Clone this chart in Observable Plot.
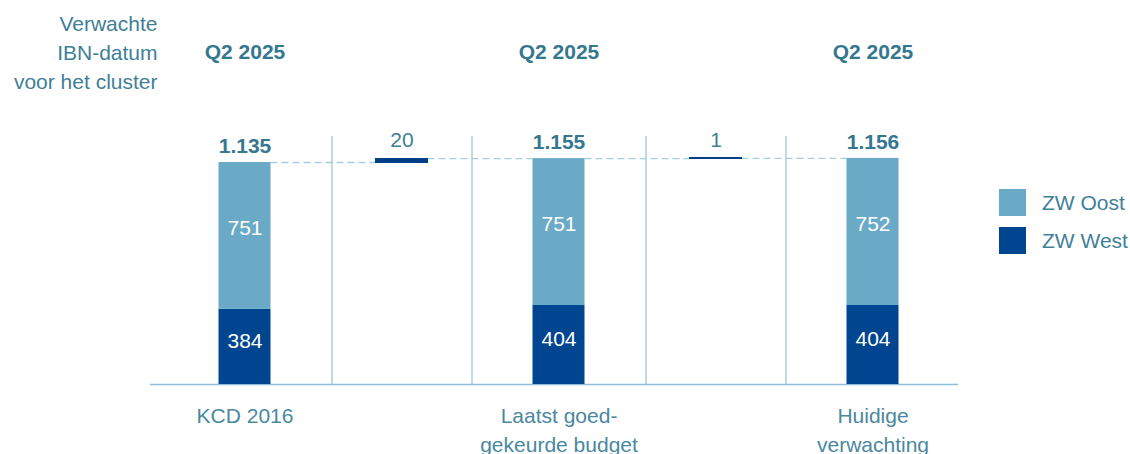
<!DOCTYPE html>
<html><head><meta charset="utf-8">
<script src="https://cdn.jsdelivr.net/npm/d3@7"></script>
<script src="https://cdn.jsdelivr.net/npm/@observablehq/plot@0.6"></script>
<style>
body{margin:0;background:#fff;}
#wrap{position:relative;width:1130px;height:454px;overflow:hidden;font-family:"Liberation Sans",Arial,sans-serif;}
#wrap svg{position:absolute;left:0;top:0;}
.legend{position:absolute;left:999px;top:189px;}
.item{display:flex;align-items:center;height:27px;margin-bottom:11px;font-size:21px;color:#3f7f97;white-space:nowrap;}
.sw{width:27px;height:27px;margin-right:16px;flex:none;}
</style></head><body><div id="wrap"></div>
<script>
// ---- data ----
const categories = ["KCD 2016", "delta1", "Laatst goedgekeurde budget", "delta2", "Huidige verwachting"];
const tickLabels = ["KCD 2016", "", "Laatst goed-\ngekeurde budget", "", "Huidige\nverwachting"];
const series = ["ZW Oost", "ZW West"];
const seriesColors = ["#6aaac7", "#004590"];
const westValues = [384, null, 404, null, 404];
const oostValues = [751, null, 751, null, 752];
const deltaValues = [null, 20, null, 1, null];
const ibnLabels = ["Q2 2025", null, "Q2 2025", null, "Q2 2025"];
const sideLabel = "Verwachte\nIBN-datum\nvoor het cluster";

// ---- derived tables ----
const nl = d3.formatLocale({decimal: ",", thousands: ".", grouping: [3], currency: ["€", ""]});
const fmt = nl.format(",d");

const segments = [];   // stacked totals
const deltas = [];     // floating increments
const totals = [];     // total labels
const levels = [];     // running level after each category
let level = 0;
categories.forEach((c, i) => {
  if (deltaValues[i] != null) {
    deltas.push({cat: c, y1: level, y2: level + deltaValues[i], value: deltaValues[i]});
    level += deltaValues[i];
  } else {
    const w = westValues[i], o = oostValues[i];
    segments.push({cat: c, series: "ZW West", y1: 0, y2: w, value: w});
    segments.push({cat: c, series: "ZW Oost", y1: w, y2: w + o, value: o});
    level = w + o;
    totals.push({cat: c, total: level, ibn: ibnLabels[i]});
  }
  levels.push(level);
});
const connectors = categories.slice(0, -1).map((c, i) => ({from: c, to: categories[i + 1], y: levels[i]}));
const separators = categories.filter((c, i) => deltaValues[i] != null);

const teal = "#3f7f97";
const bandHalf = 78.5, barHalf = 26;

const chart = Plot.plot({
  width: 1130, height: 454,
  marginLeft: 150, marginRight: 172, marginTop: 136, marginBottom: 70,
  style: {fontFamily: "'Liberation Sans', Arial, sans-serif", fontSize: "21px", color: teal, background: "transparent"},
  x: {domain: categories, range: [165.5, 950.5], padding: 0, axis: null},
  y: {domain: [0, 1268], axis: null},
  color: {domain: series, range: seriesColors},
  marks: [
    Plot.ruleX(separators, {x: d => d, dx: -70, stroke: "#93c1d6", strokeWidth: 1.2}),
    Plot.ruleX(separators, {x: d => d, dx: 70, stroke: "#93c1d6", strokeWidth: 1.2}),
    Plot.ruleY(connectors, {x1: "from", x2: "to", y: "y", stroke: "#a6cde0", strokeWidth: 1.3, strokeDasharray: "7,4",
      insetLeft: bandHalf + barHalf, insetRight: bandHalf + barHalf}),
    Plot.ruleY([0], {stroke: "#8fbfd6", strokeWidth: 1.3}),
    Plot.barY(segments, {x: "cat", y1: "y1", y2: "y2", fill: "series", insetLeft: 52.5, insetRight: 52.5}),
    Plot.barY(deltas, {x: "cat", y1: "y1", y2: "y2", fill: "#003f88", stroke: "#003f88", strokeWidth: 1, shapeRendering: "crispEdges", insetLeft: 52.5, insetRight: 52.5}),
    Plot.text(segments.filter(d => d.series === "ZW Oost"), {x: "cat", y: d => (d.y1 + d.y2) / 2, text: d => fmt(d.value), fill: "white", dy: -8}),
    Plot.text(segments.filter(d => d.series === "ZW West"), {x: "cat", y: d => (d.y1 + d.y2) / 2, text: d => fmt(d.value), fill: "white", dy: -6}),
    Plot.text(totals, {x: "cat", y: "total", text: d => fmt(d.total), fontWeight: "bold", fill: "#35778f", dy: -16}),
    Plot.text(deltas, {x: "cat", y: "y2", text: d => fmt(d.value), fill: teal, dy: -18}),
    Plot.text(totals, {x: "cat", text: "ibn", frameAnchor: "top", lineAnchor: "middle", dy: -84, fontWeight: "bold", fill: "#35778f"}),
    Plot.text([sideLabel], {text: d => d, frameAnchor: "top-left", textAnchor: "end", lineAnchor: "middle", lineHeight: 1.4, dx: 7, dy: -86, fill: teal}),
    Plot.axisX({tickFormat: d => tickLabels[categories.indexOf(d)], tickSize: 0, tickPadding: 18, lineHeight: 1.38, fill: "#4a88a0", fontSize: 21})
  ]
});
const wrap = document.getElementById("wrap");
wrap.appendChild(chart);

const legend = document.createElement("div");
legend.className = "legend";
series.forEach((s, i) => {
  const item = document.createElement("div");
  item.className = "item";
  const sw = document.createElement("span");
  sw.className = "sw";
  sw.style.background = seriesColors[i];
  item.appendChild(sw);
  item.appendChild(document.createTextNode(s));
  legend.appendChild(item);
});
wrap.appendChild(legend);
</script></body></html>
